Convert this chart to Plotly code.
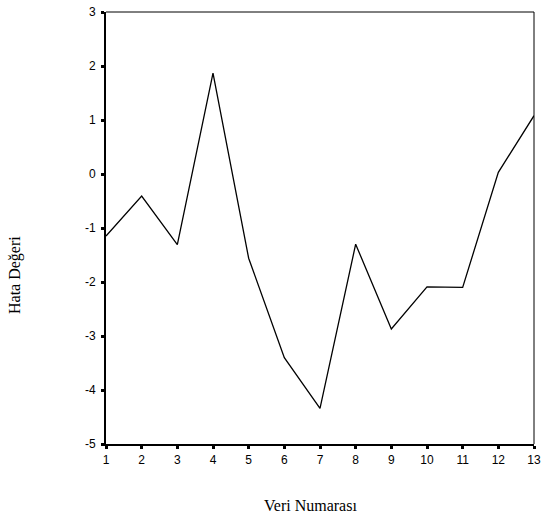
import plotly.graph_objects as go

veri_numarasi = [1, 2, 3, 4, 5, 6, 7, 8, 9, 10, 11, 12, 13]
hata_degeri = [-1.15, -0.41, -1.31, 1.87, -1.56, -3.40, -4.34, -1.30, -2.87, -2.09, -2.10, 0.03, 1.08]
x_ticks = list(range(1, 14))
x_tick_labels = [str(v) for v in x_ticks]
y_ticks = [-5, -4, -3, -2, -1, 0, 1, 2, 3]
y_tick_labels = ["-5", "-4", "-3", "-2", "-1", "0", "1", "2", "3"]

tick_font = dict(family="Liberation Sans, Arial", size=12, color="black")

fig = go.Figure()
fig.add_trace(go.Scatter(x=veri_numarasi, y=hata_degeri, mode="lines",
                         line=dict(color="black", width=1.3), hoverinfo="skip"))

fig.update_layout(
    template="none",
    width=542, height=515,
    margin=dict(l=106, r=8, t=12, b=71, autoexpand=False),
    plot_bgcolor="white", paper_bgcolor="white",
    showlegend=False,
    font=dict(family="Liberation Sans, Arial", size=12, color="black"),
)
fig.update_xaxes(range=[1, 13], tickvals=x_ticks, ticktext=x_tick_labels, ticks="outside",
                 ticklen=3, tickwidth=3, automargin=False, tickfont=tick_font,
                 tickcolor="black", showline=True, linecolor="black", linewidth=2,
                 showgrid=False, zeroline=False, ticklabelstandoff=1)
fig.update_yaxes(range=[-5, 3], tickvals=y_ticks, ticktext=y_tick_labels, ticks="outside",
                 ticklen=3, tickwidth=3, automargin=False, tickfont=tick_font,
                 tickcolor="black", showline=True, linecolor="black", linewidth=2,
                 showgrid=False, zeroline=False, ticklabelstandoff=3)

# frame (top/right thin lines)
fig.add_shape(type="line", xref="paper", yref="paper", x0=0, x1=1, y0=1, y1=1,
              line=dict(color="black", width=1))
fig.add_shape(type="line", xref="paper", yref="paper", x0=1, x1=1, y0=0, y1=1,
              line=dict(color="black", width=1))

fig.add_annotation(text="Veri Numarası", xref="paper", yref="paper",
                   x=(310 - 106) / 428, y=-(505 - 444) / 432, showarrow=False,
                   font=dict(family="Liberation Serif, Times New Roman", size=16, color="black"),
                   xanchor="center", yanchor="middle")
fig.add_annotation(text="Hata Değeri", xref="paper", yref="paper",
                   x=-(106 - 15) / 428, y=(444 - 275) / 432, showarrow=False, textangle=-90,
                   font=dict(family="Liberation Serif, Times New Roman", size=16, color="black"),
                   xanchor="center", yanchor="middle")

fig.write_html("out.html", config={"displayModeBar": False, "staticPlot": True},
               post_script="document.body.style.margin='0px';document.body.style.overflow='hidden';")
